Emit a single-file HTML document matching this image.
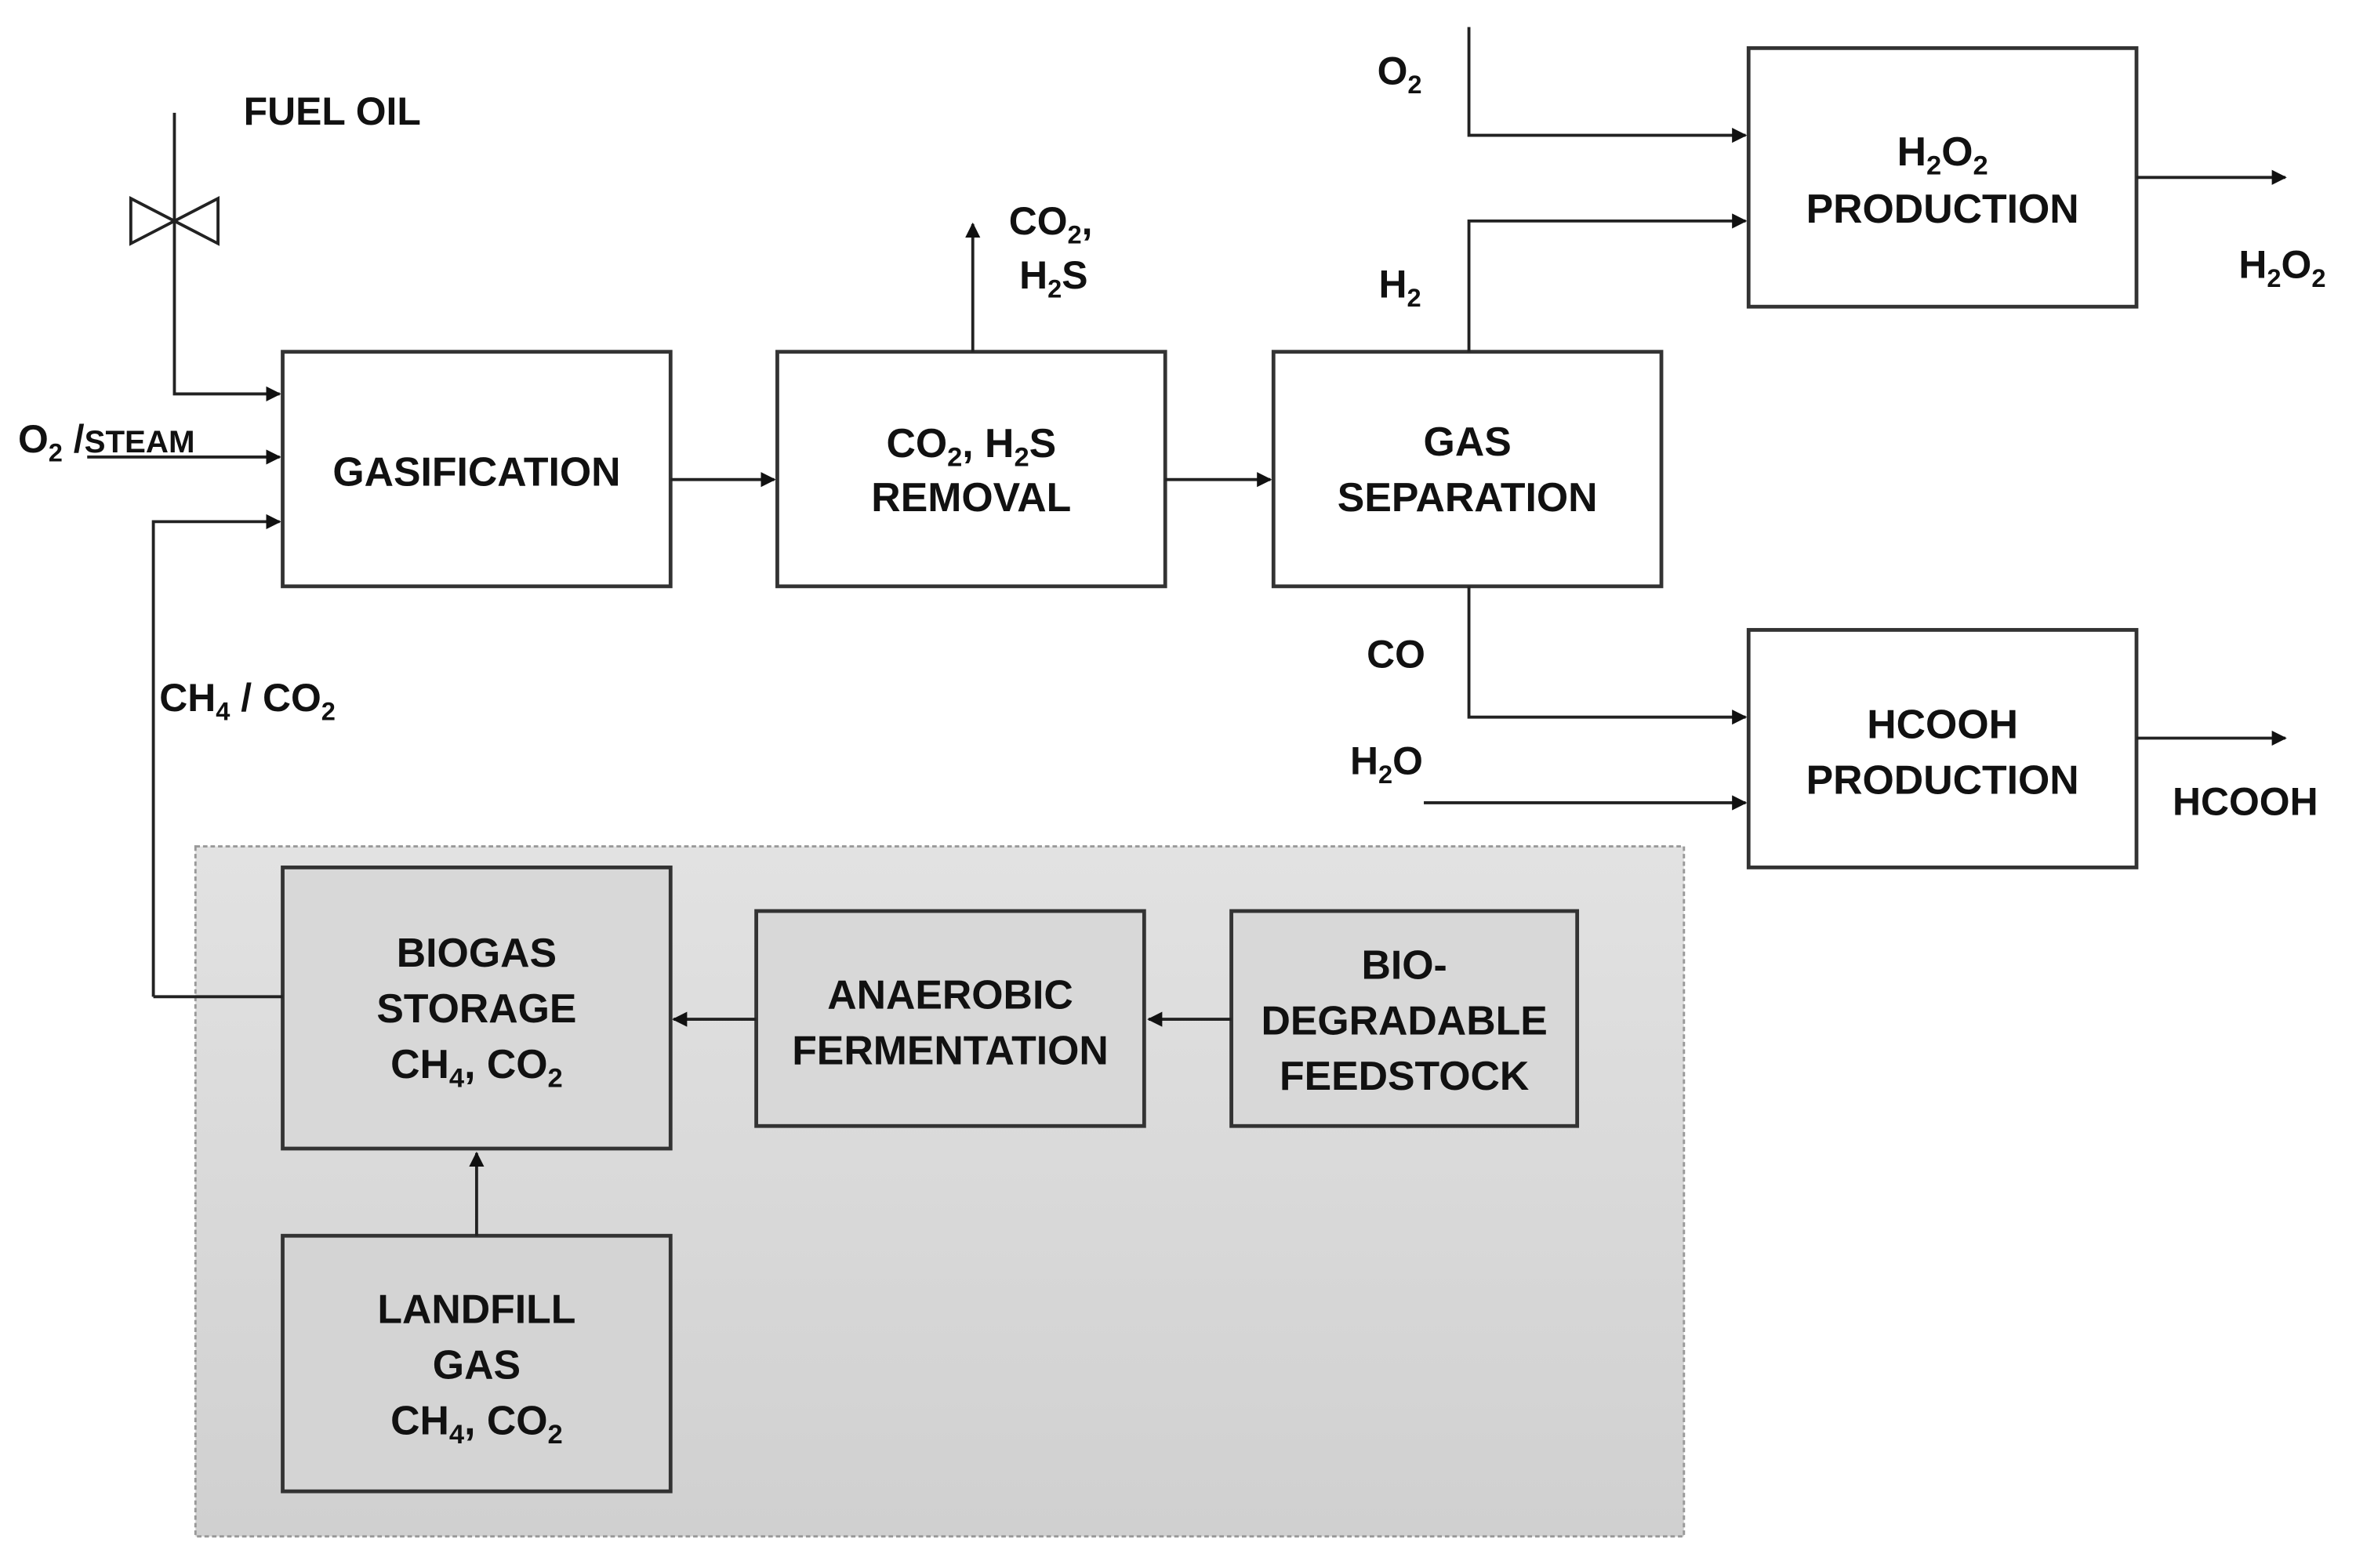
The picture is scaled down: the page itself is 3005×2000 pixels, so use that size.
<!DOCTYPE html>
<html><head><meta charset="utf-8"><style>html,body{margin:0;padding:0;background:#fff}svg{display:block}</style></head>
<body>
<svg width="3005" height="2000" viewBox="0 0 1567 1043" preserveAspectRatio="none" xmlns="http://www.w3.org/2000/svg" font-family="Liberation Sans, Arial, sans-serif" font-weight="bold" fill="#111">
<defs>
<linearGradient id="g" x1="0" y1="0" x2="0" y2="1"><stop offset="0" stop-color="#e2e2e2"/><stop offset="1" stop-color="#d0d0d0"/></linearGradient>
<marker id="a" markerWidth="10" markerHeight="10" refX="9" refY="5" orient="auto" markerUnits="userSpaceOnUse"><path d="M0,0 L10,5 L0,10 z" fill="#111"/></marker>
</defs>
<rect x="130" y="563" width="990" height="459" fill="url(#g)" stroke="#999" stroke-width="1.5" stroke-dasharray="3,2"/>
<g stroke="#333" stroke-width="2.5" fill="none">
<rect x="188" y="234" width="258" height="156" fill="#fff"/>
<rect x="517" y="234" width="258" height="156" fill="#fff"/>
<rect x="847" y="234" width="258" height="156" fill="#fff"/>
<rect x="1163" y="32" width="258" height="172" fill="#fff"/>
<rect x="1163" y="419" width="258" height="158" fill="#fff"/>
<rect x="188" y="577" width="258" height="187" fill="#d8d8d8"/>
<rect x="503" y="606" width="258" height="143" fill="#d8d8d8"/>
<rect x="819" y="606" width="230" height="143" fill="#d8d8d8"/>
<rect x="188" y="822" width="258" height="170" fill="#d4d4d4"/>
</g>
<g stroke="#222" stroke-width="2" fill="none">
<path d="M116 75 V262 H186" marker-end="url(#a)"/>
<path d="M58 304 H186" marker-end="url(#a)"/>
<path d="M102 663 V347 H186" marker-end="url(#a)"/>
<path d="M87 132 L145 162 V132 L87 162 Z" fill="#fff"/>
<path d="M446 319 H515" marker-end="url(#a)"/>
<path d="M775 319 H845" marker-end="url(#a)"/>
<path d="M647 234 V149" marker-end="url(#a)"/>
<path d="M977 18 V90 H1161" marker-end="url(#a)"/>
<path d="M977 234 V147 H1161" marker-end="url(#a)"/>
<path d="M977 390 V477 H1161" marker-end="url(#a)"/>
<path d="M947 534 H1161" marker-end="url(#a)"/>
<path d="M1421 118 H1520" marker-end="url(#a)"/>
<path d="M1421 491 H1520" marker-end="url(#a)"/>
<path d="M102 663 H188"/>
<path d="M503 678 H448" marker-end="url(#a)"/>
<path d="M819 678 H764" marker-end="url(#a)"/>
<path d="M317 822 V767" marker-end="url(#a)"/>
</g>
<g font-size="27" text-anchor="middle">
<text x="317" y="323">GASIFICATION</text>
<text x="646" y="304">CO<tspan font-size="18" dy="6">2</tspan><tspan dy="-6">, H</tspan><tspan font-size="18" dy="6">2</tspan><tspan dy="-6">S</tspan></text>
<text x="646" y="340">REMOVAL</text>
<text x="976" y="303">GAS</text>
<text x="976" y="340">SEPARATION</text>
<text x="1292" y="110">H<tspan font-size="18" dy="6">2</tspan><tspan dy="-6">O</tspan><tspan font-size="18" dy="6">2</tspan></text>
<text x="1292" y="148">PRODUCTION</text>
<text x="1292" y="491">HCOOH</text>
<text x="1292" y="528">PRODUCTION</text>
<text x="317" y="643">BIOGAS</text>
<text x="317" y="680">STORAGE</text>
<text x="317" y="717">CH<tspan font-size="18" dy="6">4</tspan><tspan dy="-6">, CO</tspan><tspan font-size="18" dy="6">2</tspan></text>
<text x="632" y="671">ANAEROBIC</text>
<text x="632" y="708">FERMENTATION</text>
<text x="934" y="651">BIO-</text>
<text x="934" y="688">DEGRADABLE</text>
<text x="934" y="725">FEEDSTOCK</text>
<text x="317" y="880">LANDFILL</text>
<text x="317" y="917">GAS</text>
<text x="317" y="954">CH<tspan font-size="18" dy="6">4</tspan><tspan dy="-6">, CO</tspan><tspan font-size="18" dy="6">2</tspan></text>
</g>
<g font-size="26">
<text x="162" y="83">FUEL OIL</text>
<text x="12" y="301">O<tspan font-size="17" dy="6">2</tspan><tspan dy="-6"> /</tspan><tspan font-size="21">STEAM</tspan></text>
<text x="106" y="473">CH<tspan font-size="17" dy="6">4</tspan><tspan dy="-6"> / CO</tspan><tspan font-size="17" dy="6">2</tspan></text>
<text x="671" y="156">CO<tspan font-size="17" dy="6">2</tspan><tspan dy="-6">,</tspan></text>
<text x="678" y="192">H<tspan font-size="17" dy="6">2</tspan><tspan dy="-6">S</tspan></text>
<text x="916" y="56">O<tspan font-size="17" dy="6">2</tspan></text>
<text x="917" y="198">H<tspan font-size="17" dy="6">2</tspan></text>
<text x="909" y="444">CO</text>
<text x="898" y="515">H<tspan font-size="17" dy="6">2</tspan><tspan dy="-6">O</tspan></text>
<text x="1489" y="185">H<tspan font-size="17" dy="6">2</tspan><tspan dy="-6">O</tspan><tspan font-size="17" dy="6">2</tspan></text>
<text x="1445" y="542">HCOOH</text>
</g>
</svg>
</body></html>
